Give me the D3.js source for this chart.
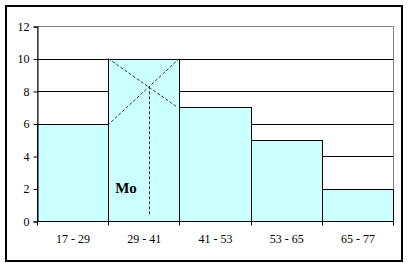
<!DOCTYPE html>
<html><head><meta charset="utf-8">
<script src="https://cdn.jsdelivr.net/npm/d3@7"></script>
<style>body{margin:0;background:#fff}svg{display:block}</style>
</head><body>
<svg id="c" width="409" height="267"></svg>
<script>
const categories = ["17 - 29", "29 - 41", "41 - 53", "53 - 65", "65 - 77"];
const values = [6, 10, 7, 5, 2];
const yTicks = [0, 2, 4, 6, 8, 10, 12];
const modeLabel = "Mo";
const modeLabelValue = 2;
const modeLineBottom = 0.4;

const svg = d3.select("#c");
const L = 37, R = 393, T = 26, B = 221;
const font = "'Liberation Serif','Times New Roman',serif";

// outer frame
svg.append("rect").attr("x", 6).attr("y", 6).attr("width", 396).attr("height", 255)
  .attr("fill", "#fff").attr("stroke", "#000").attr("stroke-width", 2);

const x = d3.scaleBand().domain(categories).range([L, R]).padding(0);
const y = d3.scaleLinear().domain([0, 12]).range([B, T]);

// plot area border (gray)
svg.append("rect").attr("x", L).attr("y", T).attr("width", R - L).attr("height", B - T)
  .attr("fill", "#fff").attr("stroke", "#808080").attr("stroke-width", 1)
  .attr("shape-rendering", "crispEdges");

// gridlines
svg.append("g").selectAll("line").data(yTicks.filter(d => d > 0 && d < 12)).join("line")
  .attr("x1", L).attr("x2", R).attr("y1", d => Math.round(y(d)) + 0.5).attr("y2", d => Math.round(y(d)) + 0.5)
  .attr("stroke", "#000").attr("stroke-width", 1);

// bars
svg.append("g").selectAll("rect").data(values).join("rect")
  .attr("x", (d, i) => Math.round(x(categories[i])) + 0.5)
  .attr("y", d => Math.round(y(d)) + 0.5)
  .attr("width", (d, i) => Math.round(x(categories[i]) + x.bandwidth()) - Math.round(x(categories[i])))
  .attr("height", d => Math.round(y(0)) - Math.round(y(d)))
  .attr("fill", "#CCFFFF").attr("stroke", "#000").attr("stroke-width", 1);

// axes
const yAxis = d3.axisLeft(y).tickValues(yTicks).tickSize(4).tickPadding(4);
const gy = svg.append("g").attr("transform", `translate(${L + 0.5},0.5)`).call(yAxis);
gy.select(".domain").attr("stroke", "#000");
gy.selectAll("text").attr("font-family", font).attr("font-size", 12).attr("fill", "#000");

const xb = d3.scaleLinear().domain([0, categories.length]).range([L, R]);
const gx = svg.append("g").attr("transform", `translate(0.5,${Math.round(B) + 0.5})`);
gx.append("line").attr("x1", L).attr("x2", R).attr("y1", 0).attr("y2", 0).attr("stroke", "#000");
gx.selectAll("line.t").data(d3.range(categories.length + 1)).join("line").attr("class", "t")
  .attr("x1", d => Math.round(xb(d))).attr("x2", d => Math.round(xb(d))).attr("y1", 0).attr("y2", 4)
  .attr("stroke", "#000");
gx.selectAll("text").data(categories).join("text")
  .attr("x", d => x(d) + x.bandwidth() / 2).attr("y", 21)
  .attr("text-anchor", "middle").attr("font-family", font).attr("font-size", 12).attr("fill", "#000")
  .text(d => d);

// mode construction
const mi = values.indexOf(d3.max(values));
const x0 = x(categories[mi]), x1 = x0 + x.bandwidth();
const yTop = values[mi], yPrev = values[mi - 1], yNext = values[mi + 1];
const p1 = [x0, y(yTop)], p2 = [x1, y(yNext)];
const p3 = [x1, y(yTop)], p4 = [x0, y(yPrev)];
// intersection
const d1 = (yTop - yPrev), d2 = (yTop - yNext);
const fx = x0 + x.bandwidth() * d1 / (d1 + d2);
const t = (fx - x0) / (x1 - x0);
const fy = p1[1] + t * (p2[1] - p1[1]);
const dash = "3,2";
svg.append("line").attr("x1", p1[0]).attr("y1", p1[1]).attr("x2", p2[0] - 2).attr("y2", p2[1])
  .attr("stroke", "#333").attr("stroke-dasharray", dash);
svg.append("line").attr("x1", p3[0]).attr("y1", p3[1]).attr("x2", p4[0] - 2).attr("y2", p4[1] + 3)
  .attr("stroke", "#333").attr("stroke-dasharray", dash);
svg.append("line").attr("x1", Math.round(fx) + 0.5).attr("y1", fy).attr("x2", Math.round(fx) + 0.5).attr("y2", y(modeLineBottom))
  .attr("stroke", "#333").attr("stroke-dasharray", dash);

svg.append("text").attr("x", x0 + 7).attr("y", y(modeLabelValue) + 4)
  .attr("font-family", font).attr("font-size", 15).attr("font-weight", "bold").attr("fill", "#000")
  .text(modeLabel);
</script>
</body></html>
